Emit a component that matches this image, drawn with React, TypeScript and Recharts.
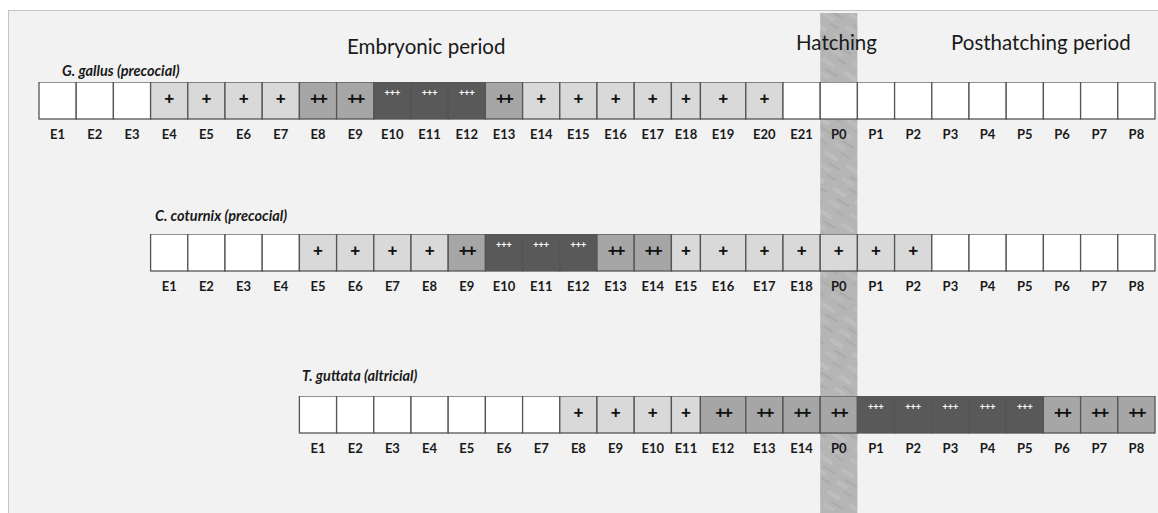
import React from 'react';
import { BarChart, Bar, XAxis, YAxis, ComposedChart, ReferenceArea } from 'recharts';

// stage labels, staining level (0 none, 1 +, 2 ++, 3 +++) and cell width in day slots
const gallusDays = ['E1','E2','E3','E4','E5','E6','E7','E8','E9','E10','E11','E12','E13','E14','E15','E16','E17','E18','E19','E20','E21','P0','P1','P2','P3','P4','P5','P6','P7','P8'];
const gallusLevels = [0,0,0,1,1,1,1,2,2,3,3,3,2,1,1,1,1,1,1,1,0,0,0,0,0,0,0,0,0,0];
const gallusWidths = [1,1,1,1,1,1,1,1,1,1,1,1,1,1,1,1,1,0.78,1.22,1,1,1,1,1,1,1,1,1,1,1];
const gallusStart = 0;

const coturnixDays = ['E1','E2','E3','E4','E5','E6','E7','E8','E9','E10','E11','E12','E13','E14','E15','E16','E17','E18','P0','P1','P2','P3','P4','P5','P6','P7','P8'];
const coturnixLevels = [0,0,0,0,1,1,1,1,2,3,3,3,2,2,1,1,1,1,1,1,1,0,0,0,0,0,0];
const coturnixWidths = [1,1,1,1,1,1,1,1,1,1,1,1,1,1,0.78,1.22,1,1,1,1,1,1,1,1,1,1,1];
const coturnixStart = 3;

const guttataDays = ['E1','E2','E3','E4','E5','E6','E7','E8','E9','E10','E11','E12','E13','E14','P0','P1','P2','P3','P4','P5','P6','P7','P8'];
const guttataLevels = [0,0,0,0,0,0,0,1,1,1,1,2,2,2,2,3,3,3,3,3,2,2,2];
const guttataWidths = [1,1,1,1,1,1,1,1,1,1,0.78,1.22,1,1,1,1,1,1,1,1,1,1,1];
const guttataStart = 7;

const hatchSlot = [21, 22];
const slotDomain = [0, 30];

const levelFill = ['#ffffff', '#d9d9d9', '#a6a6a6', '#595959'];
const W = 1158;
const M = { left: 39, right: 3 };

function StageCell(props: any) {
  const { x, y, width, height, level, day } = props;
  const cx = x + width / 2;
  return (
    <g>
      <rect x={x} y={y} width={width} height={height} fill={levelFill[level]} stroke="#555" strokeWidth={1.3} />
      {level === 1 && (
        <text x={cx} y={y + 22} textAnchor="middle" fontSize={17} fontWeight={700} fontFamily="Liberation Sans" fill="#111">+</text>
      )}
      {level === 2 && (
        <text x={cx} y={y + 22} textAnchor="middle" fontSize={17} fontWeight={700} fontFamily="Liberation Sans" letterSpacing={-2} fill="#111">++</text>
      )}
      {level === 3 && (
        <text x={cx} y={y + 14} textAnchor="middle" fontSize={9} fontWeight={700} fontFamily="Liberation Sans" fill="#fff">+++</text>
      )}
      <text x={cx} y={y + height + 20} textAnchor="middle" fontSize={13} fontWeight={700} fontFamily="Lato" fill="#1a1a1a">{day}</text>
    </g>
  );
}

function StageRow({ days, levels, widths, start, top }: { days: string[]; levels: number[]; widths: number[]; start: number; top: number }) {
  const datum: Record<string, any> = { name: 'row', offset: start };
  widths.forEach((w, i) => { datum[`c${i}`] = w; });
  return (
    <div style={{ position: 'absolute', left: 0, top }}>
      <BarChart width={W} height={66} layout="vertical" data={[datum]} barCategoryGap={0}
        margin={{ top: 0, right: M.right, bottom: 29, left: M.left }}>
        <XAxis type="number" domain={slotDomain} hide />
        <YAxis type="category" dataKey="name" hide />
        <Bar dataKey="offset" stackId="s" fill="none" isAnimationActive={false} />
        {days.map((d, i) => (
          <Bar key={d} dataKey={`c${i}`} stackId="s" isAnimationActive={false}
            shape={(p: any) => <StageCell {...p} level={levels[i]} day={d} />} />
        ))}
      </BarChart>
    </div>
  );
}

export default function App() {
  return (
    <div style={{ position: 'relative', width: W, height: 513, overflow: 'hidden', background: '#fff' }}>
      <style>{'body{margin:0}'}</style>
      <svg width={0} height={0} style={{ position: 'absolute' }}>
        <defs>
          <pattern id="hatchTex" width={26} height={26} patternUnits="userSpaceOnUse" patternTransform="rotate(32)">
            <rect width={26} height={26} fill="#b5b5b5" />
            <rect x={0} y={2} width={15} height={4} fill="#bebebe" />
            <rect x={9} y={10} width={14} height={2} fill="#aaaaaa" />
            <rect x={3} y={15} width={13} height={4} fill="#bcbcbc" />
            <rect x={14} y={21} width={10} height={2} fill="#ababab" />
          </pattern>
        </defs>
      </svg>
      <div style={{ position: 'absolute', left: 8, top: 10, right: 0, bottom: 0, background: '#f2f2f2', borderLeft: '1px solid #c4c4c4', borderTop: '1px solid #c4c4c4' }} />
      <div style={{ position: 'absolute', left: 0, top: 0 }}>
        <ComposedChart width={W} height={513} data={[{ x: 0, y: 0 }, { x: 30, y: 1 }]}
          margin={{ top: 13, right: M.right, bottom: 0, left: M.left }}>
          <XAxis dataKey="x" type="number" domain={slotDomain} hide />
          <YAxis type="number" domain={[0, 1]} hide />
          <ReferenceArea x1={hatchSlot[0]} x2={hatchSlot[1]} y1={0} y2={1} fill="url(#hatchTex)" fillOpacity={1} stroke="none" ifOverflow="extendDomain" />
        </ComposedChart>
      </div>
      <StageRow days={gallusDays} levels={gallusLevels} widths={gallusWidths} start={gallusStart} top={82} />
      <StageRow days={coturnixDays} levels={coturnixLevels} widths={coturnixWidths} start={coturnixStart} top={234} />
      <StageRow days={guttataDays} levels={guttataLevels} widths={guttataWidths} start={guttataStart} top={396} />
      <svg width={W} height={513} style={{ position: 'absolute', left: 0, top: 0, pointerEvents: 'none' }}>
        <g fontFamily="Lato" fill="#1a1a1a">
          <text x={347} y={54} fontSize={20.5}>Embryonic period</text>
          <text x={796} y={50} fontSize={20.5}>Hatching</text>
          <text x={951} y={50} fontSize={20.5}>Posthatching period</text>
          <g fontSize={14.5} fontWeight={700} fontStyle="italic">
            <text x={62} y={76}>G. gallus (precocial)</text>
            <text x={155} y={221}>C. coturnix (precocial)</text>
            <text x={302} y={381}>T. guttata (altricial)</text>
          </g>
        </g>
      </svg>
    </div>
  );
}
